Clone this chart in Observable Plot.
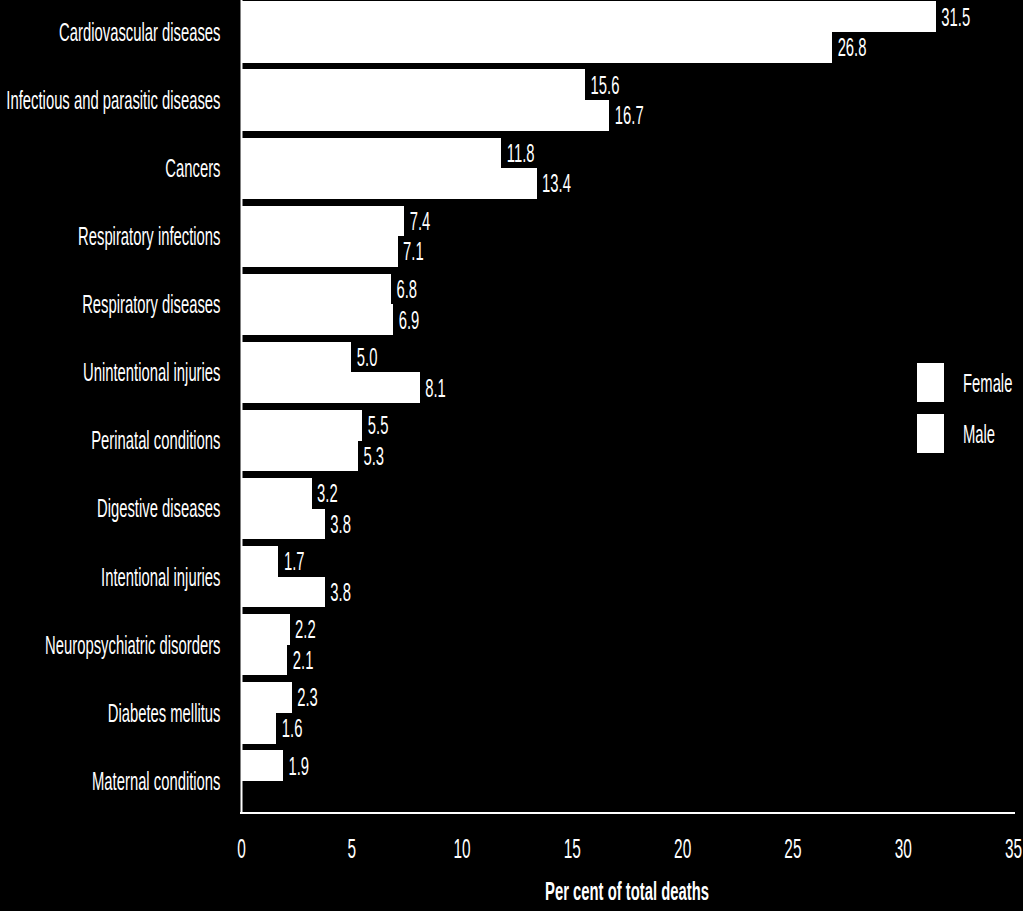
<!DOCTYPE html>
<html>
<head>
<meta charset="utf-8">
<script src="https://cdn.jsdelivr.net/npm/d3@7"></script>
<script src="https://cdn.jsdelivr.net/npm/@observablehq/plot@0.6"></script>
<style>
  html, body { margin: 0; padding: 0; background: #000; }
  #chart { position: relative; width: 1023px; height: 911px; background: #000; }
</style>
</head>
<body>
<div id="chart"></div>
<script>
// ---- data ----
const categories = [
  "Cardiovascular diseases",
  "Infectious and parasitic diseases",
  "Cancers",
  "Respiratory infections",
  "Respiratory diseases",
  "Unintentional injuries",
  "Perinatal conditions",
  "Digestive diseases",
  "Intentional injuries",
  "Neuropsychiatric disorders",
  "Diabetes mellitus",
  "Maternal conditions"
];
const femaleValues = [31.5, 15.6, 11.8, 7.4, 6.8, 5.0, 5.5, 3.2, 1.7, 2.2, 2.3, 1.9];
const maleValues   = [26.8, 16.7, 13.4, 7.1, 6.9, 8.1, 5.3, 3.8, 3.8, 2.1, 1.6, null];
const seriesNames = ["Female", "Male"];
const xTicks = [0, 5, 10, 15, 20, 25, 30, 35];
const xTitle = "Per cent of total deaths";

// ---- layout ----
const W = 1023, H = 911;
const mL = 241, mR = 10, mT = 0, mB = 98;
const padIn = 0.1, padOut = 0.02;
const step = (H - mT - mB) / (categories.length - padIn + 2 * padOut);
const bw = step * (1 - padIn);
const FONT = "'Liberation Sans', Arial, sans-serif";
const SX = 0.57; // horizontal condensing of all text

const female = categories.map((c, i) => ({category: c, series: seriesNames[0], value: femaleValues[i]}));
const male = categories.map((c, i) => ({category: c, series: seriesNames[1], value: maleValues[i]}))
  .filter(d => d.value != null);
const fmt = d => d.value.toFixed(1);

const chart = Plot.plot({
  width: W, height: H,
  marginLeft: mL, marginRight: mR, marginTop: mT, marginBottom: mB,
  style: {background: "#000", color: "#fff", fontFamily: FONT, fontSize: "26px", overflow: "visible"},
  x: {domain: [0, 35]},
  y: {domain: categories, paddingInner: padIn, paddingOuter: padOut, align: 0.5, round: false},
  marks: [
    Plot.barX(female, {x: "value", y: "category", fill: "#fff", insetBottom: bw / 2, shapeRendering: "crispEdges"}),
    Plot.barX(male, {x: "value", y: "category", fill: "#fff", insetTop: bw / 2, shapeRendering: "crispEdges"}),
    Plot.text(female, {x: "value", y: "category", text: fmt, dx: 5, dy: -bw / 4, textAnchor: "start", fill: "#fff", fontSize: 26}),
    Plot.text(male, {x: "value", y: "category", text: fmt, dx: 5, dy: bw / 4, textAnchor: "start", fill: "#fff", fontSize: 26}),
    Plot.ruleX([0], {stroke: "#fff", strokeWidth: 2}),
    Plot.axisX({ticks: xTicks, tickSize: 0, tickPadding: 25, label: null, fontSize: 27, tickFormat: d => String(d)}),
    Plot.axisY({tickSize: 0, tickPadding: 21, label: null, fontSize: 26})
  ]
});

document.getElementById("chart").appendChild(chart);

const svg = d3.select(chart);
const xs = chart.scale("x");
const [x0, x1] = xs.range;
const yBottom = H - mB;

// bottom axis line
svg.append("line")
  .attr("x1", x0 - 1).attr("x2", x1 + 2)
  .attr("y1", yBottom).attr("y2", yBottom)
  .attr("stroke", "#fff").attr("stroke-width", 2);

// axis title
svg.append("text")
  .attr("x", (x0 + x1) / 2).attr("y", 900)
  .attr("text-anchor", "middle")
  .attr("font-weight", "bold")
  .attr("font-size", 26)
  .attr("font-family", FONT)
  .attr("fill", "#fff")
  .text(xTitle);

// legend
const legend = svg.append("g");
const legendY = [363, 414];
seriesNames.forEach((name, i) => {
  legend.append("rect")
    .attr("x", 917).attr("y", legendY[i])
    .attr("width", 27).attr("height", 39)
    .attr("fill", "#fff");
  legend.append("text")
    .attr("x", 963).attr("y", legendY[i] + 21)
    .attr("dy", "0.32em")
    .attr("text-anchor", "start")
    .attr("font-size", 26)
    .attr("font-family", FONT)
    .attr("fill", "#fff")
    .text(name);
});

// condense all text horizontally about its anchor point
const isNum = v => v != null && /^-?[\d.]+(px)?$/.test(String(v).trim());
svg.selectAll("text").each(function () {
  const t = d3.select(this);
  const ax = t.attr("x"), ay = t.attr("y");
  let x = 0, y = 0;
  if (isNum(ax)) { x = parseFloat(ax); t.attr("x", null); }
  if (isNum(ay)) { y = parseFloat(ay); t.attr("y", null); }
  const tr = t.attr("transform") || "";
  t.attr("transform", `${tr} translate(${x},${y}) scale(${SX},1)`);
});
</script>
</body>
</html>
